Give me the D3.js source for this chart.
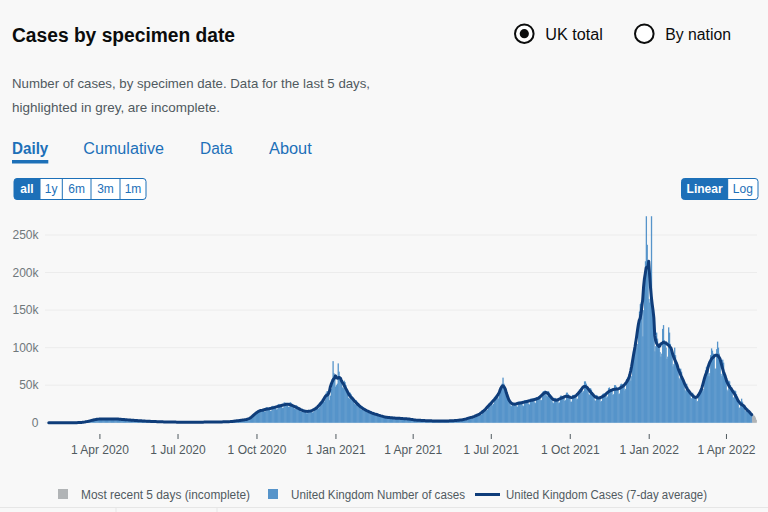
<!DOCTYPE html>
<html><head><meta charset="utf-8">
<script src="https://cdn.jsdelivr.net/npm/d3@7"></script>
<style>html,body{margin:0;padding:0;background:#f8f8f8;} svg{display:block;font-family:"Liberation Sans",Arial,sans-serif;}</style>
</head><body><svg id="c" width="768" height="512"></svg>
<script>
// ---------------- DATA ----------------
const startDate = "2020-01-30";
const incompleteDays = 5;
// Daily cases by specimen date, UK, in thousands (one row per week, Thu..Wed)
const casesK = [
0,0,0,0,0,0,0,
0,0,0,0,0,0,0,
0,0,0,0,0,0,0,
0,0,0,0,0,0,0,
0,0,0,0.01,0.02,0.03,0.04,
0.05,0.08,0.08,0.1,0.2,0.25,0.35,
0.5,0.6,0.6,0.8,1.2,1.4,1.6,
2.0,2.2,2.1,2.4,3.4,3.6,3.8,
4.1,4.2,3.8,4.0,5.0,5.1,5.2,
5.2,5.0,4.4,4.3,5.4,5.5,5.4,
5.3,5.0,4.3,4.2,5.4,5.5,5.3,
5.3,5.0,4.3,4.2,5.4,5.4,5.2,
5.0,4.7,3.9,3.8,4.8,4.7,4.5,
4.3,4.0,3.3,3.2,4.2,4.1,3.9,
3.6,3.4,2.7,2.6,3.5,3.5,3.3,
3.0,2.8,2.2,2.1,2.9,2.8,2.7,
2.5,2.3,1.8,1.7,2.4,2.3,2.2,
2.0,1.8,1.4,1.4,1.9,1.8,1.7,
1.6,1.5,1.2,1.1,1.6,1.5,1.4,
1.3,1.2,0.9,0.9,1.2,1.2,1.1,
1.0,0.9,0.8,0.7,1.0,1.0,0.9,
0.9,0.8,0.6,0.6,0.9,0.9,0.8,
0.8,0.7,0.6,0.6,0.8,0.8,0.7,
0.7,0.6,0.5,0.5,0.7,0.7,0.7,
0.7,0.6,0.5,0.5,0.7,0.8,0.7,
0.7,0.7,0.6,0.5,0.8,0.8,0.8,
0.8,0.8,0.6,0.6,0.9,0.9,0.9,
0.9,0.9,0.7,0.7,1.0,1.0,1.0,
1.0,1.0,0.8,0.8,1.1,1.1,1.1,
1.1,1.1,0.9,0.9,1.2,1.3,1.3,
1.3,1.2,1.0,1.1,1.5,1.6,1.7,
1.9,1.9,1.7,1.9,2.6,2.8,2.9,
2.9,2.8,2.5,2.7,3.7,3.9,4.0,
4.1,4.0,3.6,3.9,5.2,5.6,6.0,
6.8,7.0,6.8,8.0,11.5,12.5,13.5,
14.0,14.0,13.0,14.0,17.5,18.0,17.5,
17.0,16.5,14.5,15.0,20.0,20.5,20.0,
19.0,18.0,15.5,16.0,22.0,22.5,21.5,
21.0,20.0,17.5,18.0,24.5,25.0,24.0,
23.0,22.0,19.5,20.0,27.0,27.0,26.0,
25.0,24.0,21.0,21.0,27.5,26.5,25.0,
23.0,21.5,18.5,18.0,23.5,22.5,21.0,
19.0,18.0,15.0,14.5,18.5,18.0,17.0,
15.5,14.5,12.5,12.5,17.0,17.0,16.5,
16.0,15.5,13.5,14.0,19.5,20.0,20.0,
20.5,20.5,18.5,20.0,27.0,28.0,28.0,
30,30,28,31,40,42,42,
40,30,36,45,58,82,66,
60,48,50,52,79,68,60,
58,55,47,46,56,54,50,
42,39,33,32,40,38,35,
32,30,25,24,30,28,26,
24,22,18,17,22,21,19,
18,17,14,13,17,16,15,
14,13,11,10,13,13,12,
11,10.5,8.5,8.5,10.5,10,9.5,
8.5,8,6.5,6.5,8,7.5,7.5,
7,7,5.5,5.5,7.5,7,6.5,
6.5,6,5,5,6.5,6.5,6.5,
6,5.5,4.5,4.5,6,6,5.5,
5.5,5,4,4,5.5,5,4.5,
4.5,3.5,3.0,3.0,3.0,4.0,4.0,
3.5,3.2,2.6,2.5,3.3,3.2,3.0,
2.9,2.7,2.2,2.1,2.9,2.8,2.6,
2.6,2.5,2.0,1.9,2.7,2.6,2.5,
2.4,2.3,1.8,1.8,2.0,2.6,2.5,
2.4,2.3,1.8,1.8,2.6,2.6,2.5,
2.6,2.5,2.0,2.0,2.9,2.9,2.9,
3.0,2.9,2.4,2.5,3.5,3.6,3.8,
4.0,3.9,3.3,3.3,4.0,5.3,5.6,
6.0,5.8,5.0,5.2,7.4,7.8,8.0,
8.3,8.0,6.8,7.2,10.5,11.0,11.5,
12.0,11.5,10.0,10.5,15.5,16.5,17.5,
18.5,18.0,16.0,17.0,24.0,26.0,27.0,
27,26,23,25,34,35,36,
36,35,32,37,45,48,52,
60,52,45,43,40,36,34,
31,28,23,22,27,26,25,
26,26,22,21,28,28,28,
28,27,23,22,30,30,30,
30,29,25,24,32,32,32,
32,31,27,26,34,34,34,
35,34,30,30,40,42,42,
43,42,36,35,42,40,38,
34,32,27,26,33,33,31,
31,30,26,27,36,36,35,
35,34,29,30,40,40,38,
35,33,28,28,37,37,36,
37,36,31,32,42,44,44,
46,45,40,42,55,55,52,
48,45,38,37,46,44,41,
38,35,30,29,37,36,34,
34,33,28,29,38,39,38,
38,37,33,35,46,47,45,
44,43,37,38,50,50,48,
45,44,38,39,51,52,51,
50,49,43,45,58,60,60,
62,62,56,62,85,95,100,
108,112,100,105,135,148,158,
160,150,115,150,200,215,275,
237,200,165,160,193,275,150,
125,110,95,102,120,112,105,
100,94,88,92,125,130,110,
105,100,85,88,127,120,105,
98,92,75,78,100,90,82,
78,72,60,58,72,68,62,
58,54,44,42,52,48,45,
43,40,33,32,40,38,36,
34,32,28,29,38,42,44,
46,46,42,45,62,70,74,
76,72,62,66,90,99,96,
92,88,72,72,98,108,100,
92,85,65,62,84,80,68,
62,57,44,42,56,55,50,
46,44,34,33,43,42,38,
35,28,20,20,24,32,28,
24,22,16,15,19,19,17,
15,14,10,9,8,10,9,
7,4
];
const yTicks = [0, 50, 100, 150, 200, 250];
const xTickDates = ["2020-04-01","2020-07-01","2020-10-01","2021-01-01","2021-04-01","2021-07-01","2021-10-01","2022-01-01","2022-04-01"];
const xTickLabels = ["1 Apr 2020","1 Jul 2020","1 Oct 2020","1 Jan 2021","1 Apr 2021","1 Jul 2021","1 Oct 2021","1 Jan 2022","1 Apr 2022"];
const rangeButtons = ["all","1y","6m","3m","1m"];
const scaleButtons = ["Linear","Log"];
const tabs = ["Daily","Cumulative","Data","About"];
const radios = ["UK total","By nation"];
const legendLabels = ["Most recent 5 days (incomplete)","United Kingdom Number of cases","United Kingdom Cases (7-day average)"];

// ---------------- DRAW ----------------
const BLUE = "#1d70b8", BAR = "#5694ca", LINE = "#0f3d7a", GREY = "#b1b4b6";
const svg = d3.select("#c");
svg.append("rect").attr("width",768).attr("height",512).attr("fill","#f8f8f8");

function txt(x, y, s, size, opts = {}) {
  const t = svg.append("text").attr("x", x).attr("y", y).attr("font-size", size)
    .attr("fill", opts.fill || "#0b0c0c").text(s);
  if (opts.bold) t.attr("font-weight", "bold");
  if (opts.anchor) t.attr("text-anchor", opts.anchor);
  if (opts.len) t.attr("textLength", opts.len).attr("lengthAdjust", "spacingAndGlyphs");
  return t;
}

// Title
txt(12, 42, "Cases by specimen date", 20, {bold: true, len: 223});
// Radios
const radioX = [524.3, 644.3], radioLen = [57.6, 65.7];
radios.forEach((r, i) => {
  svg.append("circle").attr("cx", radioX[i]).attr("cy", 33.7).attr("r", 9.3)
    .attr("fill", "#fff").attr("stroke", "#0b0c0c").attr("stroke-width", 2);
  if (i === 0) svg.append("circle").attr("cx", radioX[i]).attr("cy", 33.7).attr("r", 4.6).attr("fill", "#0b0c0c");
  txt(radioX[i] + 21, 40, r, 16, {len: radioLen[i]});
});
// Description
txt(12, 87.5, "Number of cases, by specimen date. Data for the last 5 days,", 13, {fill: "#505a5f", len: 358});
txt(12, 112, "highlighted in grey, are incomplete.", 13, {fill: "#505a5f", len: 208});
// Tabs
const tabX = [12, 83.3, 200, 269], tabLen = [36.3, 80.7, 32.7, 42.7];
tabs.forEach((t, i) => txt(tabX[i], 153.5, t, 16, {fill: BLUE, bold: i === 0, len: tabLen[i]}));
svg.append("rect").attr("x", 12).attr("y", 160).attr("width", 36.3).attr("height", 3.5).attr("fill", BLUE);

// Button groups
function buttonGroup(labels, edges, selected) {
  const x0 = edges[0], x1 = edges[edges.length - 1], yT = 178.5, h = 21;
  svg.append("rect").attr("x", x0).attr("y", yT).attr("width", x1 - x0).attr("height", h)
    .attr("rx", 3).attr("fill", "#fff").attr("stroke", BLUE).attr("stroke-width", 1);
  labels.forEach((l, i) => {
    const a = edges[i], b = edges[i + 1];
    if (i === selected) {
      svg.append("rect").attr("x", a).attr("y", yT).attr("width", b - a).attr("height", h).attr("rx", 3).attr("fill", BLUE);
      svg.append("rect").attr("x", a + 3).attr("y", yT).attr("width", b - a - 3).attr("height", h).attr("fill", BLUE);
    } else if (i > 0) {
      svg.append("line").attr("x1", a).attr("x2", a).attr("y1", yT).attr("y2", yT + h).attr("stroke", BLUE).attr("stroke-width", 1);
    }
    txt((a + b) / 2, 193, l, 12, {anchor: "middle", fill: i === selected ? "#fff" : BLUE, bold: i === selected});
  });
}
buttonGroup(rangeButtons, [14, 40, 62.3, 91, 120, 146], 0);
buttonGroup(scaleButtons, [681.5, 727.7, 758], 0);

// Scales
const parse = d3.utcParse("%Y-%m-%d");
const t0 = parse(startDate);
const dates = casesK.map((_, i) => d3.utcDay.offset(t0, i));
const x = d3.scaleUtc().domain([dates[0], dates[dates.length - 1]]).range([46.2, 756]);
const y = d3.scaleLinear().domain([0, 250]).range([422.7, 235]);

// Grid + y labels
yTicks.forEach(t => {
  svg.append("line").attr("x1", 45).attr("x2", 757).attr("y1", y(t)).attr("y2", y(t))
    .attr("stroke", "#ececec").attr("stroke-width", 1);
  txt(38.5, y(t) + 4, t === 0 ? "0" : t + "k", 12, {anchor: "end", fill: "#6f777b"});
});

// Bars (slightly overlapped to avoid anti-aliasing seams)
const bw = x(dates[1]) - x(dates[0]);
const n = casesK.length;
svg.append("g").selectAll("rect").data(casesK).join("rect")
  .attr("x", (d, i) => x(dates[i]) - bw / 2)
  .attr("width", bw + 0.45)
  .attr("y", d => y(d))
  .attr("height", d => y(0) - y(d))
  .attr("fill", (d, i) => i >= n - incompleteDays ? GREY : BAR);

// 7-day average (centred), over complete data
const avg = [];
for (let i = 3; i <= n - 1 - incompleteDays; i++) {
  avg.push({d: dates[i], v: d3.mean(casesK.slice(i - 3, i + 4))});
}
svg.append("path").datum(avg)
  .attr("fill", "none").attr("stroke", LINE).attr("stroke-width", 3)
  .attr("stroke-linejoin", "round").attr("stroke-linecap", "round")
  .attr("d", d3.line().x(d => x(d.d)).y(d => y(d.v)));

// X axis
const xAxis = d3.axisBottom(x)
  .tickValues(xTickDates.map(parse))
  .tickFormat((d, i) => xTickLabels[i])
  .tickSize(5).tickPadding(6.5);
const gx = svg.append("g").attr("transform", "translate(0,434)").call(xAxis);
gx.select(".domain").remove();
gx.selectAll(".tick line").attr("stroke", "#505a5f");
gx.selectAll(".tick text").attr("font-size", 12).attr("fill", "#505a5f")
  .attr("font-family", '"Liberation Sans",Arial,sans-serif');

// Legend
svg.append("rect").attr("x", 58).attr("y", 489).attr("width", 10).attr("height", 10).attr("fill", GREY);
txt(81, 498.5, legendLabels[0], 12, {fill: "#505a5f", len: 169});
svg.append("rect").attr("x", 268).attr("y", 489).attr("width", 10).attr("height", 10).attr("fill", BAR);
txt(291, 498.5, legendLabels[1], 12, {fill: "#505a5f", len: 174});
svg.append("line").attr("x1", 475).attr("x2", 500).attr("y1", 494.5).attr("y2", 494.5).attr("stroke", LINE).attr("stroke-width", 3);
txt(506, 498.5, legendLabels[2], 12, {fill: "#505a5f", len: 201});

// Bottom separators
svg.append("line").attr("x1", 0).attr("x2", 768).attr("y1", 507.5).attr("y2", 507.5).attr("stroke", "#e6e6e6");
[116, 217].forEach(v => svg.append("line").attr("x1", v).attr("x2", v).attr("y1", 507.5).attr("y2", 512).attr("stroke", "#e6e6e6"));
</script></body></html>
